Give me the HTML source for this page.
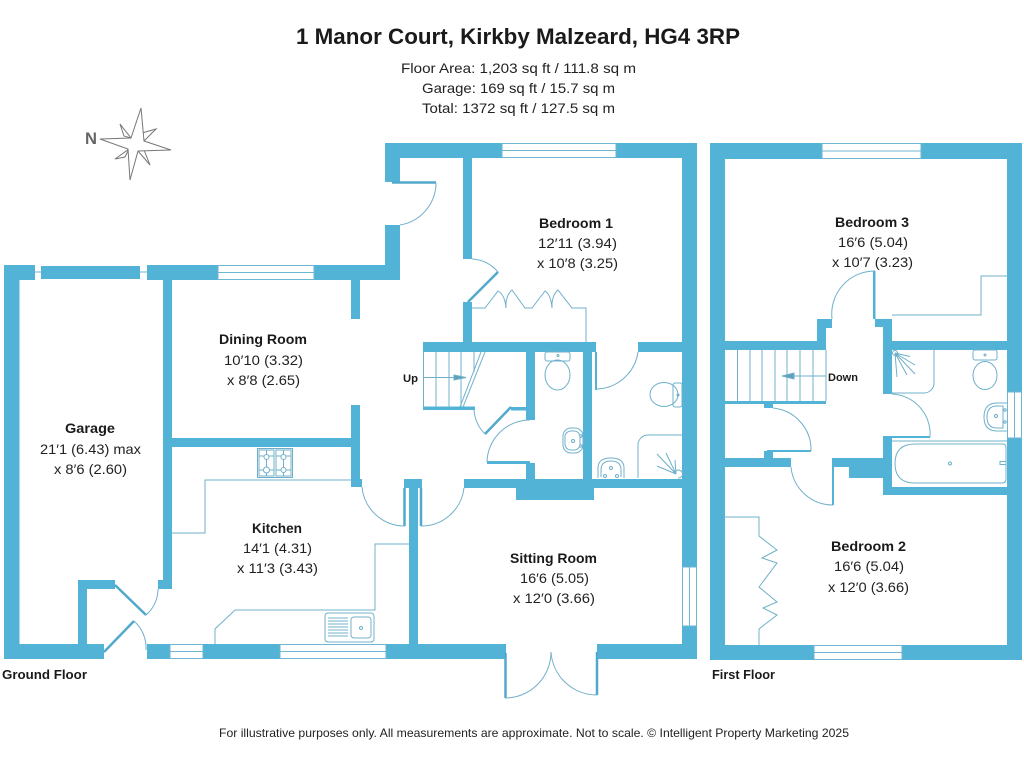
<!DOCTYPE html>
<html><head><meta charset="utf-8"><style>
html,body{margin:0;padding:0;background:#fff}
svg{display:block}
text{font-family:"Liberation Sans",sans-serif;fill:#222;font-size:14px}
.b{font-weight:bold;fill:#1a1a1a}
.w{fill:#52b3d7}
.l{fill:none;stroke:#6fb0c9;stroke-width:1}
.t{fill:none;stroke:#52a9cb;stroke-width:2.5}
.win{fill:#fff;stroke:#6fb6d2;stroke-width:1}
</style></head><body>
<svg width="1024" height="768" viewBox="0 0 1024 768" xmlns="http://www.w3.org/2000/svg">
<rect width="1024" height="768" fill="#fff"/>

<!-- header -->
<text class="b" x="296" y="44" style="font-size:22px" textLength="444" lengthAdjust="spacingAndGlyphs">1 Manor Court, Kirkby Malzeard, HG4 3RP</text>
<text x="401" y="73" textLength="235" lengthAdjust="spacingAndGlyphs">Floor Area: 1,203 sq ft / 111.8 sq m</text>
<text x="422" y="93" textLength="193" lengthAdjust="spacingAndGlyphs">Garage: 169 sq ft / 15.7 sq m</text>
<text x="422" y="113" textLength="193" lengthAdjust="spacingAndGlyphs">Total: 1372 sq ft / 127.5 sq m</text>

<!-- compass -->
<text x="85" y="144" textLength="12" lengthAdjust="spacingAndGlyphs" style="font-weight:bold;fill:#666;font-size:17px">N</text>
<g fill="#fff" stroke="#777" stroke-width="1">
<path d="M120 124L124 136L131 138Z"/><path d="M156 129L142 133L144 141Z"/><path d="M150 165L144 150L138 151Z"/><path d="M115 159L125 157L129 149Z"/>
<path d="M141 108L144 141L171 150L138 151L130 180L128 149L100 139L131 138Z"/>
</g>

<!-- ground floor walls -->
<g class="w">
<rect x="4" y="265" width="31" height="15"/>
<rect x="41" y="266" width="99" height="13"/>
<rect x="147" y="265" width="71" height="15"/>
<rect x="314" y="265" width="86" height="15"/>
<rect x="4" y="265" width="15.5" height="394"/>
<rect x="4" y="644" width="100" height="15"/>
<rect x="163" y="280" width="9" height="309"/>
<rect x="158" y="580" width="14" height="9"/>
<rect x="78" y="580" width="9" height="64"/>
<rect x="78" y="580" width="37" height="9"/>
<rect x="147" y="644" width="23" height="15"/>
<rect x="203" y="644" width="77" height="15"/>
<rect x="386" y="644" width="120" height="15"/>
<rect x="597" y="644" width="100" height="15"/>
<rect x="172" y="438" width="188" height="9"/>
<rect x="351" y="280" width="9" height="39"/>
<rect x="351" y="405" width="9" height="82"/>
<rect x="360" y="479" width="2" height="8"/>
<rect x="409" y="488" width="9" height="156"/>
<rect x="404" y="479" width="18" height="9"/>
<rect x="464" y="479" width="218" height="9"/>
<rect x="516" y="488" width="78" height="12"/>
<rect x="385" y="143" width="117" height="15"/>
<rect x="616" y="143" width="81" height="15"/>
<rect x="682" y="143" width="15" height="424"/>
<rect x="682" y="626" width="15" height="33"/>
<rect x="385" y="143" width="15" height="39"/>
<rect x="385" y="225" width="15" height="55"/>
<rect x="463" y="158" width="9" height="101"/>
<rect x="463" y="302" width="9" height="40"/>
<rect x="423" y="342" width="173" height="10"/>
<rect x="638" y="342" width="44" height="10"/>
<rect x="583" y="352" width="9" height="127"/>
<rect x="526" y="352" width="9" height="68"/>
<rect x="526" y="463" width="9" height="16"/>
<rect x="487" y="461" width="43" height="3"/>
<rect x="511" y="407" width="15" height="3.500"/>
<rect x="423" y="406.500" width="52" height="3.500"/>
<rect x="595" y="352" width="2" height="38"/>

<!-- first floor walls -->
<rect x="710" y="143" width="112" height="16"/>
<rect x="921" y="143" width="101" height="16"/>
<rect x="710" y="143" width="15" height="517"/>
<rect x="1007" y="143" width="15" height="249"/>
<rect x="1007" y="438" width="15" height="222"/>
<rect x="710" y="645" width="104" height="15"/>
<rect x="902" y="645" width="120" height="15"/>
<rect x="725" y="341" width="101" height="9"/>
<rect x="817" y="319" width="9" height="31"/>
<rect x="817" y="319" width="15" height="9"/>
<rect x="873" y="271" width="2.5" height="48"/>
<rect x="875" y="319" width="17" height="8"/>
<rect x="883" y="319" width="9" height="75"/>
<rect x="892" y="341" width="115" height="9"/>
<rect x="725" y="401" width="101" height="3"/>
<rect x="764" y="404" width="9" height="4"/>
<rect x="767" y="450" width="44" height="2"/>
<rect x="764" y="451" width="9" height="8"/>
<rect x="725" y="458" width="66" height="9"/>
<rect x="832" y="458" width="51" height="9"/>
<rect x="832" y="458" width="2" height="47"/>
<rect x="849" y="467" width="34" height="11"/>
<rect x="883" y="436" width="9" height="59"/>
<rect x="883" y="487" width="124" height="8"/>
<rect x="887" y="436" width="43" height="2"/>
</g>

<!-- windows -->
<g class="win">
<rect x="218" y="265.500" width="96" height="14"/><path d="M218 272.500H314"/>
<rect x="502" y="143.500" width="114" height="14"/><path d="M502 150.500H616"/>
<rect x="170" y="644.500" width="33" height="14"/><path d="M170 651.500H203"/>
<rect x="280" y="644.500" width="106" height="14"/><path d="M280 651.500H386"/>
<rect x="682.500" y="567" width="14" height="59"/><path d="M689.500 567V626"/>
<rect x="822" y="143.500" width="99" height="15"/><path d="M822 151H921"/>
<rect x="814" y="645.500" width="88" height="14"/><path d="M814 652.500H902"/>
<rect x="1007.500" y="392" width="14" height="46"/><path d="M1014.500 392V438"/>
</g>
<path class="l" d="M35 272H41M140 272H147"/>

<!-- door leaves -->
<g class="t">
<path d="M115 585L146 615M104 652L134 621M498 272L468 302M485 434L511 407M392 182.500H436M404.500 488V526M421 488V526M505.500 653V698M597 652V695"/>
</g>

<!-- door arcs -->
<g class="l">
<path d="M158 589A34 34 0 0 1 146 615"/>
<path d="M134 621A36 36 0 0 1 146 650"/>
<path d="M436 183A43 43 0 0 1 400 225"/>
<path d="M472 259Q488 260 498 272"/>
<path d="M638 352A43 43 0 0 1 595 389"/>
<path d="M474 410A38 38 0 0 0 485 434"/>
<path d="M487 462A43 43 0 0 1 530 420"/>
<path d="M362 487A43 43 0 0 0 405 526"/>
<path d="M421 526A43 43 0 0 0 464 488"/>
<path d="M505 698A46 46 0 0 0 551 652"/>
<path d="M597 695A46 46 0 0 1 551 652"/>
<path d="M832 319A43 43 0 0 1 875 271"/>
<path d="M773 408A42 42 0 0 1 811 451"/>
<path d="M791 467A42 42 0 0 0 833 505"/>
<path d="M892 394A40 40 0 0 1 930 437"/>
</g>

<!-- fittings ground -->
<g class="l">
<path d="M172 533H205V480H351"/>
<path d="M409 544H375V610H235L215 629V644"/>
<rect x="257.500" y="448.500" width="35" height="29"/>
<rect x="259" y="450" width="15" height="26"/><rect x="276" y="450" width="15" height="26"/>
<path d="M259 456H274M259 470H274M276 456H291M276 470H291M266.500 450V476M283.500 450V476"/>
<circle cx="266.500" cy="457" r="2.500" fill="#fff"/><circle cx="266.500" cy="470" r="3" fill="#fff"/><circle cx="283.500" cy="457" r="2.500" fill="#fff"/><circle cx="283.500" cy="470" r="2.500" fill="#fff"/>
<rect x="325" y="613" width="49" height="29" rx="3"/>
<rect x="351" y="617" width="20" height="21" rx="3"/>
<circle cx="361" cy="628" r="1.500"/>
<path d="M328 618H348M328 621H348M328 624H348M328 627H348M328 630H348M328 633H348M328 636H348"/>
<!-- bed1 closet -->
<path d="M472 308H485L498 291Q505 295 506 308V303Q507 294 512 290L525 308H532L545 291Q551 295 552 308V303Q553 294 558 290L572 308H586V342"/>
<!-- stairs -->
<path d="M423.500 352V407M436 352V407M449 352V407M461 352V407M474 352V372M423 377.500H466M485 352L463 407M481 352L460 407"/>
<path d="M454 375L466 377.500L454 380Z" fill="#5b9fba"/>
<!-- wc -->
<rect x="545" y="352" width="25" height="9" rx="2"/>
<ellipse cx="557.500" cy="375" rx="12.500" ry="15"/>
<circle cx="558" cy="355.500" r="1"/>
<rect x="563" y="428" width="20" height="25" rx="8"/>
<rect x="565" y="431" width="15" height="19" rx="6"/>
<circle cx="573" cy="441" r="1.500"/>
<circle cx="581" cy="436" r="1.200"/><circle cx="581" cy="446" r="1.200"/>
<!-- bathroom -->
<rect x="673" y="383" width="9" height="24" rx="2"/>
<ellipse cx="664" cy="394.500" rx="14" ry="12"/>
<circle cx="678" cy="395" r="1"/>
<path d="M638 478V445A10 10 0 0 1 648 435H682"/>
<path d="M676 474L657 454M676 474L666 453M676 474L657 466M676 474L675 460M678 478A4 4 0 1 0 676 471"/>
<path d="M598 478V468Q598 458 611 458Q624 458 624 468V478"/>
<path d="M601 477V470Q601 461 611 461Q621 461 621 470V477"/>
<circle cx="611" cy="468" r="1.500"/><circle cx="605" cy="476" r="1.500"/><circle cx="617" cy="476" r="1.500"/>

<!-- fittings first -->
<path d="M892 315H981V276H1007"/>
<path d="M737.500 350V401M750 350V401M762 350V401M775 350V401M787 350V401M800 350V401M813 350V401M826 350V401M782 376H826"/>
<path d="M782 376L794 373V379Z" fill="#5b9fba"/>
<path d="M892 393H924A10 10 0 0 0 934 383V350"/>
<path d="M895 353L910 356.500M895 353L915 365M895 353L915 374M895 353L907 375M895 353L897 377"/>
<circle cx="895" cy="353" r="2.500"/>
<rect x="973" y="350" width="24" height="10" rx="2"/>
<ellipse cx="985" cy="375.500" rx="12" ry="14"/>
<circle cx="985" cy="355" r="1"/>
<path d="M1007 403H997Q984 403 984 417Q984 431 997 431H1007"/>
<path d="M1003 406H997Q987 406 987 417Q987 428 997 428H1003Z"/>
<circle cx="996" cy="416" r="1.500"/><circle cx="1005" cy="410" r="1.200"/><circle cx="1005" cy="422" r="1.200"/>
<path d="M892 441H1007"/>
<path d="M1003 444H915Q895 444 895 463.500Q895 483 915 483H1002Q1006 483 1006 479V448Q1006 444 1003 444Z"/>
<circle cx="950" cy="463.500" r="1.500"/><rect x="1000" y="461.500" width="6" height="3"/>
<path d="M725 517H759V536L777 550L762 558L777 563L759 587L777 602L763 608L777 615L759 629V645"/>
</g>

<!-- labels -->
<text class="b" x="219" y="344" textLength="88" lengthAdjust="spacingAndGlyphs">Dining Room</text>
<text x="224" y="365" textLength="79" lengthAdjust="spacingAndGlyphs">10′10 (3.32)</text>
<text x="227" y="385" textLength="73" lengthAdjust="spacingAndGlyphs">x 8′8 (2.65)</text>

<text class="b" x="65" y="433" textLength="50" lengthAdjust="spacingAndGlyphs">Garage</text>
<text x="40" y="454" textLength="101" lengthAdjust="spacingAndGlyphs">21′1 (6.43) max</text>
<text x="54" y="474" textLength="73" lengthAdjust="spacingAndGlyphs">x 8′6 (2.60)</text>

<text class="b" x="252" y="533" textLength="50" lengthAdjust="spacingAndGlyphs">Kitchen</text>
<text x="243" y="553" textLength="69" lengthAdjust="spacingAndGlyphs">14′1 (4.31)</text>
<text x="237" y="573" textLength="81" lengthAdjust="spacingAndGlyphs">x 11′3 (3.43)</text>

<text class="b" x="539" y="228" textLength="74" lengthAdjust="spacingAndGlyphs">Bedroom 1</text>
<text x="538" y="248" textLength="79" lengthAdjust="spacingAndGlyphs">12′11 (3.94)</text>
<text x="537" y="268" textLength="81" lengthAdjust="spacingAndGlyphs">x 10′8 (3.25)</text>

<text class="b" x="510" y="563" textLength="87" lengthAdjust="spacingAndGlyphs">Sitting Room</text>
<text x="520" y="583" textLength="69" lengthAdjust="spacingAndGlyphs">16′6 (5.05)</text>
<text x="513" y="603" textLength="82" lengthAdjust="spacingAndGlyphs">x 12′0 (3.66)</text>

<text class="b" x="835" y="227" textLength="74" lengthAdjust="spacingAndGlyphs">Bedroom 3</text>
<text x="838" y="247" textLength="70" lengthAdjust="spacingAndGlyphs">16′6 (5.04)</text>
<text x="832" y="267" textLength="81" lengthAdjust="spacingAndGlyphs">x 10′7 (3.23)</text>

<text class="b" x="831" y="551" textLength="75" lengthAdjust="spacingAndGlyphs">Bedroom 2</text>
<text x="834" y="571" textLength="70" lengthAdjust="spacingAndGlyphs">16′6 (5.04)</text>
<text x="828" y="592" textLength="81" lengthAdjust="spacingAndGlyphs">x 12′0 (3.66)</text>

<text class="b" x="2" y="679" style="font-size:13px" textLength="85" lengthAdjust="spacingAndGlyphs">Ground Floor</text>
<text class="b" x="712" y="679" style="font-size:13px" textLength="63" lengthAdjust="spacingAndGlyphs">First Floor</text>
<text class="b" x="403" y="382" style="font-size:11px" textLength="15" lengthAdjust="spacingAndGlyphs">Up</text>
<text class="b" x="828" y="381" style="font-size:11px" textLength="30" lengthAdjust="spacingAndGlyphs">Down</text>

<text x="219" y="737" style="font-size:12px" textLength="630" lengthAdjust="spacingAndGlyphs">For illustrative purposes only. All measurements are approximate. Not to scale. © Intelligent Property Marketing 2025</text>
</svg>
</body></html>
